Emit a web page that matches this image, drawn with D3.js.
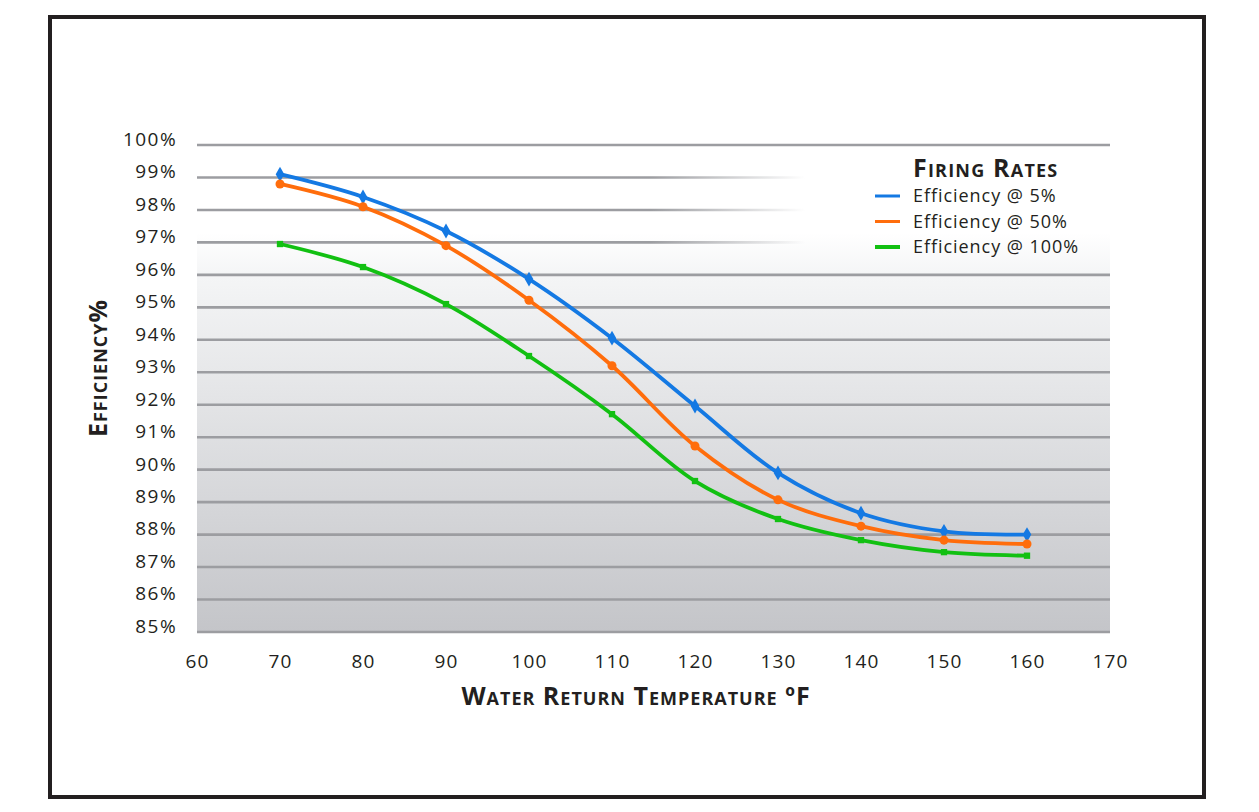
<!DOCTYPE html>
<html>
<head>
<meta charset="utf-8">
<script src="https://cdn.jsdelivr.net/npm/d3@7"></script>
<style>
    body { margin: 0; background: #ffffff; }
    svg { display: block; }
    text { font-family: "Open Sans", "Lato", sans-serif; fill: #231f20; }
</style>
</head>
<body>
<div id="chart"></div>
<script>
// data
let temperatures = [70, 80, 90, 100, 110, 120, 130, 140, 150, 160];
let eff_5 = [99.1, 98.4, 97.35, 95.87, 94.05, 91.96, 89.9, 88.66, 88.1, 88.0];
let eff_50 = [98.8, 98.1, 96.9, 95.22, 93.2, 90.73, 89.07, 88.26, 87.83, 87.71];
let eff_100 = [96.95, 96.24, 95.1, 93.5, 91.71, 89.65, 88.48, 87.83, 87.46, 87.35];
let series_names = ['Efficiency @ 5%', 'Efficiency @ 50%', 'Efficiency @ 100%'];
let x_ticks = [60, 70, 80, 90, 100, 110, 120, 130, 140, 150, 160, 170];
let y_ticks = [85, 86, 87, 88, 89, 90, 91, 92, 93, 94, 95, 96, 97, 98, 99, 100];

let width = 1259, height = 812;
let plot = {left: 197, right: 1110, top: 145, bottom: 632};
let colors = ['#1479e3', '#ff6d0c', '#12c012'];
let marker_types = [d3.symbolDiamond, d3.symbolCircle, d3.symbolSquare];
let marker_sizes = [64, 64, 40];

let svg = d3.select('#chart').append('svg')
    .attr('width', width)
    .attr('height', height);

let x = d3.scaleLinear().domain([60, 170]).range([plot.left, plot.right]);
let y = d3.scaleLinear().domain([85, 100]).range([plot.bottom, plot.top]);

let defs = svg.append('defs');

let bg_grad = defs.append('linearGradient').attr('id', 'bg_grad')
    .attr('x1', 0).attr('y1', 0).attr('x2', 0).attr('y2', 1);
bg_grad.append('stop').attr('offset', 0).attr('stop-color', '#ffffff');
bg_grad.append('stop').attr('offset', 0.18).attr('stop-color', '#ffffff');
bg_grad.append('stop').attr('offset', 0.27).attr('stop-color', '#f4f5f6');
bg_grad.append('stop').attr('offset', 1).attr('stop-color', '#c4c5c9');

// upper grid lines fade out behind the legend
let fade_grad = defs.append('linearGradient').attr('id', 'fade_grad')
    .attr('gradientUnits', 'userSpaceOnUse')
    .attr('x1', 650).attr('y1', 0).attr('x2', 805).attr('y2', 0);
fade_grad.append('stop').attr('offset', 0).attr('stop-color', '#9c9da1').attr('stop-opacity', 1);
fade_grad.append('stop').attr('offset', 1).attr('stop-color', '#9c9da1').attr('stop-opacity', 0);

// outer frame
svg.append('rect')
    .attr('x', 50).attr('y', 17)
    .attr('width', 1154).attr('height', 780)
    .attr('fill', 'none')
    .attr('stroke', '#231f20')
    .attr('stroke-width', 4);

svg.append('rect')
    .attr('x', plot.left).attr('y', plot.top)
    .attr('width', plot.right - plot.left)
    .attr('height', plot.bottom - plot.top)
    .attr('fill', 'url(#bg_grad)');

svg.append('g').selectAll('line')
    .data(y_ticks)
    .join('line')
    .attr('x1', plot.left)
    .attr('x2', plot.right)
    .attr('y1', d => y(d))
    .attr('y2', d => y(d))
    .attr('stroke', d => (d >= 97 && d <= 99) ? 'url(#fade_grad)' : '#9c9da1')
    .attr('stroke-width', 2.6);

// axes: only the labels are shown
let x_axis = svg.append('g')
    .attr('transform', 'translate(0,' + (plot.bottom + 11) + ')')
    .call(d3.axisBottom(x).tickValues(x_ticks).tickSize(0).tickPadding(12));
x_axis.select('.domain').remove();
x_axis.selectAll('text').attr('font-size', '19px').attr('fill', '#231f20')
    .attr('letter-spacing', '1.2px')
    .attr('font-family', '"Open Sans", sans-serif');

let y_axis = svg.append('g')
    .attr('transform', 'translate(' + (plot.left - 20) + ',0)')
    .call(d3.axisLeft(y).tickValues(y_ticks).tickSize(0).tickPadding(0)
        .tickFormat(d => d + '%'));
y_axis.select('.domain').remove();
y_axis.selectAll('text').attr('font-size', '19px').attr('fill', '#231f20')
    .attr('letter-spacing', '1.4px')
    .attr('dy', '0.02em')
    .attr('font-family', '"Open Sans", sans-serif');

let all_series = [eff_5, eff_50, eff_100];

let line = d3.line()
    .x((d, i) => x(temperatures[i]))
    .y(d => y(d))
    .curve(d3.curveCatmullRom.alpha(0.5));

all_series.forEach(function (values, k) {
    let g = svg.append('g');
    g.append('path')
        .attr('d', line(values))
        .attr('fill', 'none')
        .attr('stroke', colors[k])
        .attr('stroke-width', 3.8)
        .attr('stroke-linejoin', 'round');
    g.selectAll('path.marker')
        .data(values)
        .join('path')
        .attr('class', 'marker')
        .attr('transform', (d, i) => 'translate(' + x(temperatures[i]) + ',' + y(d) + ')')
        .attr('d', d3.symbol().type(marker_types[k]).size(marker_sizes[k]))
        .attr('fill', colors[k]);
});

// legend
let legend = svg.append('g').attr('transform', 'translate(875,0)');
legend.append('text')
    .attr('x', 38).attr('y', 177)
    .attr('font-size', '25px')
    .attr('font-weight', 700)
    .attr('font-variant', 'small-caps')
    .attr('letter-spacing', '1.2px')
    .text('Firing Rates');
series_names.forEach(function (name, k) {
    let yy = 196 + k * 25.5;
    legend.append('line')
        .attr('x1', 0).attr('x2', 25)
        .attr('y1', yy).attr('y2', yy)
        .attr('stroke', colors[k])
        .attr('stroke-width', k == 2 ? 4 : 3);
    legend.append('text')
        .attr('x', 38).attr('y', yy)
        .attr('dy', '0.35em')
        .attr('font-size', '18px')
        .attr('letter-spacing', '0.95px')
        .text(name);
});

// axis titles
svg.append('text')
    .attr('x', 636).attr('y', 705)
    .attr('text-anchor', 'middle')
    .attr('font-size', '25px')
    .attr('font-weight', 700)
    .attr('font-variant', 'small-caps')
    .attr('letter-spacing', '1px')
    .text('Water Return Temperature ºF');

svg.append('text')
    .attr('transform', 'translate(107,368) rotate(-90)')
    .attr('text-anchor', 'middle')
    .attr('font-size', '25px')
    .attr('font-weight', 700)
    .attr('font-variant', 'small-caps')
    .attr('letter-spacing', '1px')
    .text('Efficiency%');
</script>
</body>
</html>
